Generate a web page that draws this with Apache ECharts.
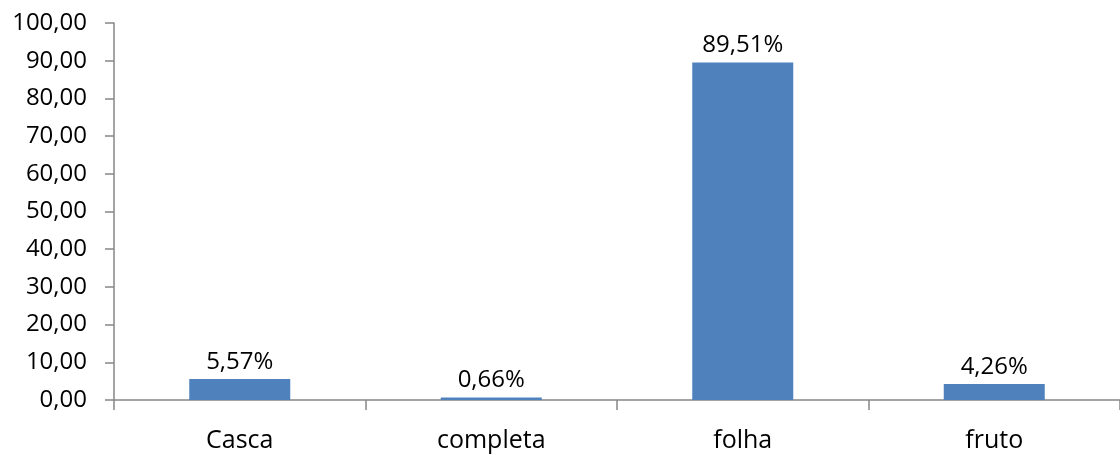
<!DOCTYPE html>
<html>
<head>
<meta charset="utf-8">
<script src="https://cdn.jsdelivr.net/npm/echarts@6/dist/echarts.min.js"></script>
<style>
  html, body { margin: 0; padding: 0; background: #fff; }
  #chart { width: 1120px; height: 455px; }
</style>
</head>
<body>
<div id="chart"></div>
<script>
const categories = ["Casca", "completa", "folha", "fruto"];
const values = [5.57, 0.66, 89.51, 4.26];
const yMin = 0;
const yMax = 100;
const yStep = 10;

const fontFamily = "'Open Sans', 'Noto Sans', sans-serif";
const axisColor = "#868686";

const chart = echarts.init(document.getElementById("chart"));

chart.setOption({
  animation: false,
  backgroundColor: "#fff",
  grid: { left: 114, right: 0, top: 23, bottom: 55 },
  xAxis: {
    type: "category",
    data: categories,
    axisLine: { lineStyle: { color: axisColor, width: 1.5 } },
    axisTick: { show: true, length: 10, alignWithLabel: false, lineStyle: { color: axisColor, width: 1.5 } },
    axisLabel: { color: "#000", fontSize: 25, fontFamily: fontFamily, margin: 28 },
  },
  yAxis: {
    type: "value",
    min: yMin,
    max: yMax,
    interval: yStep,
    splitLine: { show: false },
    axisLine: { show: true, lineStyle: { color: axisColor, width: 1.5 } },
    axisTick: { show: true, length: 9, lineStyle: { color: axisColor, width: 1.5 } },
    axisLabel: {
      color: "#000",
      fontSize: 24,
      fontFamily: fontFamily,
      margin: 27,
      formatter: (v) => v.toFixed(2).replace(".", ","),
    },
  },
  series: [
    {
      type: "bar",
      data: values,
      barWidth: 101,
      itemStyle: { color: "#4F81BD" },
      label: {
        show: true,
        position: "top",
        distance: 5,
        color: "#000",
        fontSize: 24,
        fontFamily: fontFamily,
        formatter: (p) => p.value.toFixed(2).replace(".", ",") + "%",
      },
    },
  ],
});
</script>
</body>
</html>
